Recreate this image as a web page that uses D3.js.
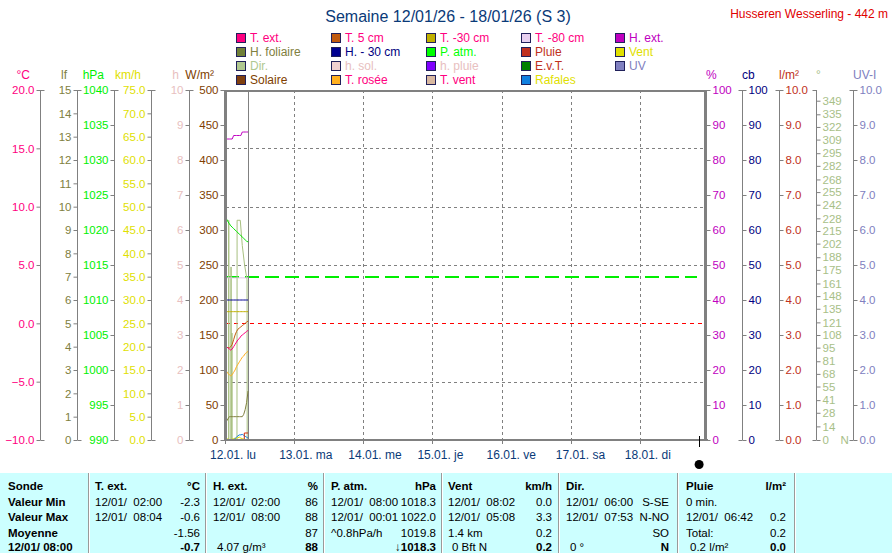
<!DOCTYPE html>
<html><head><meta charset="utf-8">
<script src="https://cdn.jsdelivr.net/npm/d3@7"></script>
<style>
body{margin:0;background:#fff}
svg{display:block}
text{font-family:"Liberation Sans",Arial,sans-serif}
</style>
</head><body>
<svg id="c" width="892" height="553"></svg>
<script>
// ---------------- DATA ----------------
const dayLabels = ["12.01. lu","13.01. ma","14.01. me","15.01. je","16.01. ve","17.01. sa","18.01. di"];
const hours = [0,0.5,1,1.5,2,2.5,3,3.5,4,4.5,5,5.5,6,6.5,7,7.5,8];
const tExt  = [-1.8,-2.0,-2.1,-2.2,-2.3,-2.2,-2.0,-1.8,-1.6,-1.4,-1.3,-1.1,-1.0,-0.9,-0.8,-0.7,-0.6];
const t5cm  = [-1.6,-2.0,-2.1,-2.1,-2.0,-1.8,-1.4,-1.0,-0.7,-0.5,-0.4,-0.3,-0.2,-0.1,0.0,0.1,0.2];
const tDew  = [-3.8,-4.1,-4.3,-4.4,-4.5,-4.4,-4.2,-4.0,-3.7,-3.5,-3.3,-3.1,-2.9,-2.8,-2.6,-2.5,-2.4];
const t30cm = [1.0,1.0,1.0,1.0,1.0,1.0,1.0,1.0,1.0,1.0,1.0,1.0,1.0,1.0,1.0,1.0,1.0];
const t80cm = [3.9,3.9,3.9,3.9,3.9,3.9,3.9,3.9,3.9,3.9,3.9,3.9,3.9,3.9,3.9,3.9,3.9];
const hExt  = [86,86,86,86,86,86,87,87,87,87,87,87,88,88,88,88,88];
const h30cm = [40,40,40,40,40,40,40,40,40,40,40,40,40,40,40,40,40];
const hFol  = [1.0,0.8,0.9,1.0,1.0,1.0,1.0,1.0,1.0,1.0,1.0,1.0,1.0,1.1,1.3,1.6,2.1];
const pAtm  = [1022.0,1021.6,1021.2,1020.9,1020.6,1020.4,1020.2,1020.0,1019.8,1019.6,1019.4,1019.2,1019.0,1018.8,1018.6,1018.4,1018.3];
const wind  = [0.2,0.3,0.2,0.1,0.0,0.2,0.3,0.4,0.3,0.5,0.6,0.4,0.3,0.2,0.1,0.0,0.0];
const gust  = [0,0,0,0,0,0,0,0.3,0.6,0.9,1.1,1.1,1.2,1.0,0.8,0.6,0.4];
const rainHours = [0,6.7,8];
const rainCum   = [0,0.2,0.2];
const dirHours = [0,0.3,0.35,0.4,0.45,1.25,1.3,1.35,2.05,2.1,2.15,2.35,2.4,2.45,4.15,4.2,5.3,6.0,6.8,7.65,7.7,8.0];
const dirDeg   = [0,0,188,188,0,0,226,0,0,178,0,0,110,0,0,226,226,200,180,165,0,0];
const pressureRef = 1013.25;
const nowHour = 8.08;
const newMoonHour = 164.4;

const tickC   = [-10,-5,0,5,10,15,20];
const tickLf  = [0,1,2,3,4,5,6,7,8,9,10,11,12,13,14,15];
const tickHpa = [990,995,1000,1005,1010,1015,1020,1025,1030,1035,1040];
const tickKmh = [0,5,10,15,20,25,30,35,40,45,50,55,60,65,70,75];
const tickH   = [0,1,2,3,4,5,6,7,8,9,10];
const tickW   = [0,50,100,150,200,250,300,350,400,450,500];
const tickPct = [0,10,20,30,40,50,60,70,80,90,100];
const tickRain= [0,1,2,3,4,5,6,7,8,9,10];
const tickDir = [0,14,28,41,55,68,81,95,108,121,135,148,161,175,188,202,215,228,242,255,268,282,295,309,322,335,349];

const legendNames = [
  ["T. ext.","T. 5 cm","T. -30 cm","T. -80 cm","H. ext."],
  ["H. foliaire","H. - 30 cm","P. atm.","Pluie","Vent"],
  ["Dir.","h. sol.","h. pluie","E.v.T.","UV"],
  ["Solaire","T. rosée","T. vent","Rafales"]
];
const legendFill = [
  ["#ff0080","#c05a10","#c0b000","#e8d0f0","#c000c0"],
  ["#708038","#000090","#00ff00","#c03020","#e0e000"],
  ["#b0c890","#f0d0d0","#8000ff","#008000","#8080c0"],
  ["#804010","#ffb020","#d8b8a0","#1080e0"]
];
const legendText = [
  ["#ff0080","#ff0080","#ff0080","#ff0080","#c000c0"],
  ["#808040","#000080","#00ff00","#c03020","#e0e000"],
  ["#b0c890","#e8c0c0","#e8c0c0","#c03020","#8080c0"],
  ["#804000","#ff0080","#ff0080","#e0e000"]
];

const rowLabels = ["Sonde","Valeur Min","Valeur Max","Moyenne","12/01/ 08:00"];
const colTExt  = [["T. ext.","°C"],["12/01/  02:00","-2.3"],["12/01/  08:04","-0.6"],["","-1.56"],["","-0.7"]];
const colHExt  = [["H. ext.","%"],["12/01/  02:00","86"],["12/01/  08:00","88"],["","87"],["4.07 g/m³","88"]];
const colPAtm  = [["P. atm.","hPa"],["12/01/  08:00","1018.3"],["12/01/  00:01","1022.0"],["^0.8hPa/h","1019.8"],["","↓1018.3"]];
const colVent  = [["Vent","km/h"],["12/01/  08:02","0.0"],["12/01/  05:08","3.3"],["1.4 km","0.2"],["0 Bft N","0.2"]];
const colDir   = [["Dir.",""],["12/01/  06:00","S-SE"],["12/01/  07:53","N-NO"],["","SO"],["0 °","N"]];
const colPluie = [["Pluie","l/m²"],["0 min.",""],["12/01/  06:42","0.2"],["Total:","0.2"],["0.2 l/m²","0.0"]];

// ---------------- DRAW ----------------
const svg = d3.select("#c");
const TOP = 90, BOT = 440;
const GRAY = "#808080";
const x = d3.scaleLinear().domain([0,168]).range([225,709]);
const yC    = d3.scaleLinear().domain([-10,20]).range([BOT,TOP]);
const yLf   = d3.scaleLinear().domain([0,15]).range([BOT,TOP]);
const yHpa  = d3.scaleLinear().domain([990,1040]).range([BOT,TOP]);
const yKmh  = d3.scaleLinear().domain([0,75]).range([BOT,TOP]);
const yH    = d3.scaleLinear().domain([0,10]).range([BOT,TOP]);
const yW    = d3.scaleLinear().domain([0,500]).range([BOT,TOP]);
const yPct  = d3.scaleLinear().domain([0,100]).range([BOT,TOP]);
const yCb   = d3.scaleLinear().domain([0,100]).range([BOT,TOP]);
const yRain = d3.scaleLinear().domain([0,10]).range([BOT,TOP]);
const yDir  = d3.scaleLinear().domain([0,360]).range([BOT,TOP]);
const yUV   = d3.scaleLinear().domain([0,10]).range([BOT,TOP]);

// title
svg.append("text").attr("x",448).attr("y",22).attr("text-anchor","middle")
  .attr("fill","#0a3a78").style("font-size","16px").text("Semaine 12/01/26 - 18/01/26 (S 3)");
svg.append("text").attr("x",888).attr("y",18).attr("text-anchor","end")
  .attr("fill","#e00000").style("font-size","12px").text("Husseren Wesserling - 442 m");

// legend
const legColX = [236,331,426,521,615];
const legRowY = [38,52,66,80];
legendNames.forEach((row,ri)=>row.forEach((name,ci)=>{
  const g = svg.append("g");
  g.append("rect").attr("x",legColX[ci]+0.5).attr("y",legRowY[ri]-4.5).attr("width",9).attr("height",9)
    .attr("fill",legendFill[ri][ci]).attr("stroke","#20205a");
  g.append("text").attr("x",legColX[ci]+14).attr("y",legRowY[ri]+4).attr("fill",legendText[ri][ci])
    .style("font-size","12px").text(name);
}));

// grid
const grid = svg.append("g").attr("shape-rendering","crispEdges");
for (let k=1;k<7;k++){
  grid.append("line").attr("x1",Math.round(x(24*k))+0.5).attr("x2",Math.round(x(24*k))+0.5)
    .attr("y1",TOP).attr("y2",BOT).attr("stroke",GRAY).attr("stroke-dasharray","3,3");
}
[15,10,5,-5].forEach(v=>{
  grid.append("line").attr("x1",226).attr("x2",704).attr("y1",Math.round(yC(v))+0.5).attr("y2",Math.round(yC(v))+0.5)
    .attr("stroke",GRAY).attr("stroke-dasharray","3,3");
});
grid.append("line").attr("x1",226).attr("x2",704).attr("y1",Math.round(yC(0))+0.5).attr("y2",Math.round(yC(0))+0.5)
  .attr("stroke","#ff0000").attr("stroke-dasharray","4,4");
// standard pressure reference line
svg.append("line").attr("x1",x(0)).attr("x2",697).attr("y1",Math.round(yHpa(pressureRef))).attr("y2",Math.round(yHpa(pressureRef)))
  .style("stroke","#00ee00").style("stroke-width","2px").style("stroke-dasharray","14,6");

// now line
svg.append("line").attr("x1",Math.round(x(nowHour))+0.5).attr("x2",Math.round(x(nowHour))+0.5)
  .attr("y1",TOP).attr("y2",BOT).attr("stroke",GRAY);

// series
function series(xs, ys, scale, color, curve){
  const line = d3.line().x((d,i)=>x(xs[i])).y(d=>scale(d)).curve(curve||d3.curveLinear);
  svg.append("path").datum(ys).attr("d",line).attr("fill","none").attr("stroke",color).attr("stroke-width",1);
}
series(dirHours, dirDeg, yDir, "#a8c080");
series(hours, hFol, yLf, "#808040");
series(hours, t80cm, yC, "#e0c0e8");
series(hours, h30cm, yCb, "#000090");
series(hours, t30cm, yC, "#c0b000");
series(hours, tDew, yC, "#ffb020");
series(hours, t5cm, yC, "#c06010");
series(hours, tExt, yC, "#ff0080");
series(hours, hExt, yPct, "#c000c0");
series(hours, pAtm, yHpa, "#00e800");
series(hours, wind, yKmh, "#e0e000");
series(hours, gust, yKmh, "#1080e0");
series(rainHours, rainCum, yRain, "#d03010", d3.curveStepAfter);

// frame
svg.append("line").attr("x1",224).attr("x2",707).attr("y1",91).attr("y2",91).attr("stroke",GRAY).attr("stroke-width",2);
svg.append("line").attr("x1",224).attr("x2",708).attr("y1",440).attr("y2",440).attr("stroke",GRAY).attr("stroke-width",2);
svg.append("line").attr("x1",225.5).attr("x2",225.5).attr("y1",90).attr("y2",441).attr("stroke",GRAY).attr("stroke-width",3);
svg.append("line").attr("x1",705.5).attr("x2",705.5).attr("y1",90).attr("y2",441).attr("stroke",GRAY).attr("stroke-width",3);

// x axis ticks & labels
dayLabels.forEach((lab,k)=>{
  const xx = Math.round(x(24*k))+0.5;
  svg.append("line").attr("x1",xx).attr("x2",xx).attr("y1",440).attr("y2",444).attr("stroke",GRAY);
  svg.append("text").attr("x",x(24*k)-15).attr("y",459).attr("fill","#0a3a78").style("font-size","12px").text(lab);
});
// moon
svg.append("line").attr("x1",Math.round(x(newMoonHour))+0.5).attr("x2",Math.round(x(newMoonHour))+0.5)
  .attr("y1",436).attr("y2",447).attr("stroke","#000");
svg.append("circle").attr("cx",x(newMoonHour)+0.5).attr("cy",464.5).attr("r",4.5).attr("fill","#000");

// axes
function makeAxis(side, scale, xPos, vals, fmt, color, title, drawLine){
  const g = svg.append("g").attr("transform",`translate(${xPos+0.5},0)`);
  if (drawLine) g.append("line").attr("y1",TOP).attr("y2",BOT).attr("stroke",GRAY);
  const ax = (side==="left"?d3.axisLeft(scale):d3.axisRight(scale))
    .tickValues(vals).tickFormat(fmt).tickSize(4).tickSizeOuter(0).tickPadding(2);
  g.call(ax);
  g.select(".domain").remove();
  g.attr("font-family",null).attr("font-size",null);
  g.selectAll(".tick line").attr("stroke",GRAY);
  g.selectAll(".tick text").attr("fill",color).style("font-size","11.5px");
  const s = side==="left"?1:-1;
  [TOP,BOT].forEach(yy=>g.append("line").attr("x1",0).attr("x2",4*s).attr("y1",yy+0.5).attr("y2",yy+0.5).attr("stroke",GRAY));
  if (side==="left"){
    svg.append("text").attr("x",xPos-10).attr("y",79).attr("text-anchor","end").attr("fill",color).style("font-size","12px").text(title);
  } else {
    svg.append("text").attr("x",xPos).attr("y",79).attr("text-anchor","start").attr("fill",color).style("font-size","12px").text(title);
  }
  return g;
}
const f1 = d3.format(".1f"), f0 = d3.format("d");
makeAxis("left", yC,   40, tickC, f1, "#ff0080", "°C", true);
makeAxis("left", yLf,  77, tickLf, f0, "#808040", "lf", true);
makeAxis("left", yHpa, 114, tickHpa, f0, "#00f000", "hPa", true);
makeAxis("left", yKmh, 151, tickKmh, f1, "#e0e000", "km/h", true);
makeAxis("left", yH,   189, tickH, f0, "#e8c0c0", "h", true);
makeAxis("left", yW,   224, tickW, f0, "#804000", "W/m²", false);
makeAxis("right", yPct, 706, tickPct, f0, "#c000c0", "%", false);
makeAxis("right", yCb,  742, tickPct, f0, "#000080", "cb", true);
makeAxis("right", yRain,779, tickRain, f1, "#c03020", "l/m²", true);
const gDir = makeAxis("right", yDir, 816, tickDir, f0, "#a8c088", "°", true);
gDir.append("text").attr("x",24).attr("y",BOT).attr("dy","0.32em").attr("fill","#a8c088").style("font-size","11.5px").text("N");
makeAxis("right", yUV,  853, tickRain, f1, "#8080c0", "UV-I", true);

// table
svg.append("rect").attr("x",0).attr("y",473).attr("width",892).attr("height",80).attr("fill","#ccffff");
const sepX = [88,205,323,441,558,677,794];
sepX.forEach(sx=>{
  svg.append("line").attr("x1",sx+0.5).attr("x2",sx+0.5).attr("y1",473).attr("y2",553).attr("stroke","#9a9a9a");
  svg.append("line").attr("x1",sx+1.5).attr("x2",sx+1.5).attr("y1",473).attr("y2",553).attr("stroke","#ffffff");
});
const rowY = [489.5,505.5,521,536.5,551];
rowLabels.forEach((t,i)=>svg.append("text").attr("x",8).attr("y",rowY[i]).attr("font-weight","bold")
  .style("font-size","11.5px").attr("fill","#000").text(t));
const cols = [colTExt,colHExt,colPAtm,colVent,colDir,colPluie];
const colL = [95,213,331,448,566,686];
const colR = [200,318,436,552,669,786];
cols.forEach((col,ci)=>col.forEach((cell,ri)=>{
  const bold = ri===0;
  svg.append("text").attr("x",colL[ci]+(ri===4?4:0)).attr("y",rowY[ri]).attr("font-weight",bold?"bold":"normal")
    .style("font-size","11.5px").style("white-space","pre").attr("fill","#000").text(cell[0]);
  svg.append("text").attr("x",colR[ci]).attr("y",rowY[ri]).attr("text-anchor","end").attr("font-weight",(ri===0||ri===4)?"bold":"normal")
    .style("font-size","11.5px").attr("fill","#000").text(cell[1]);
}));
</script>
</body></html>
